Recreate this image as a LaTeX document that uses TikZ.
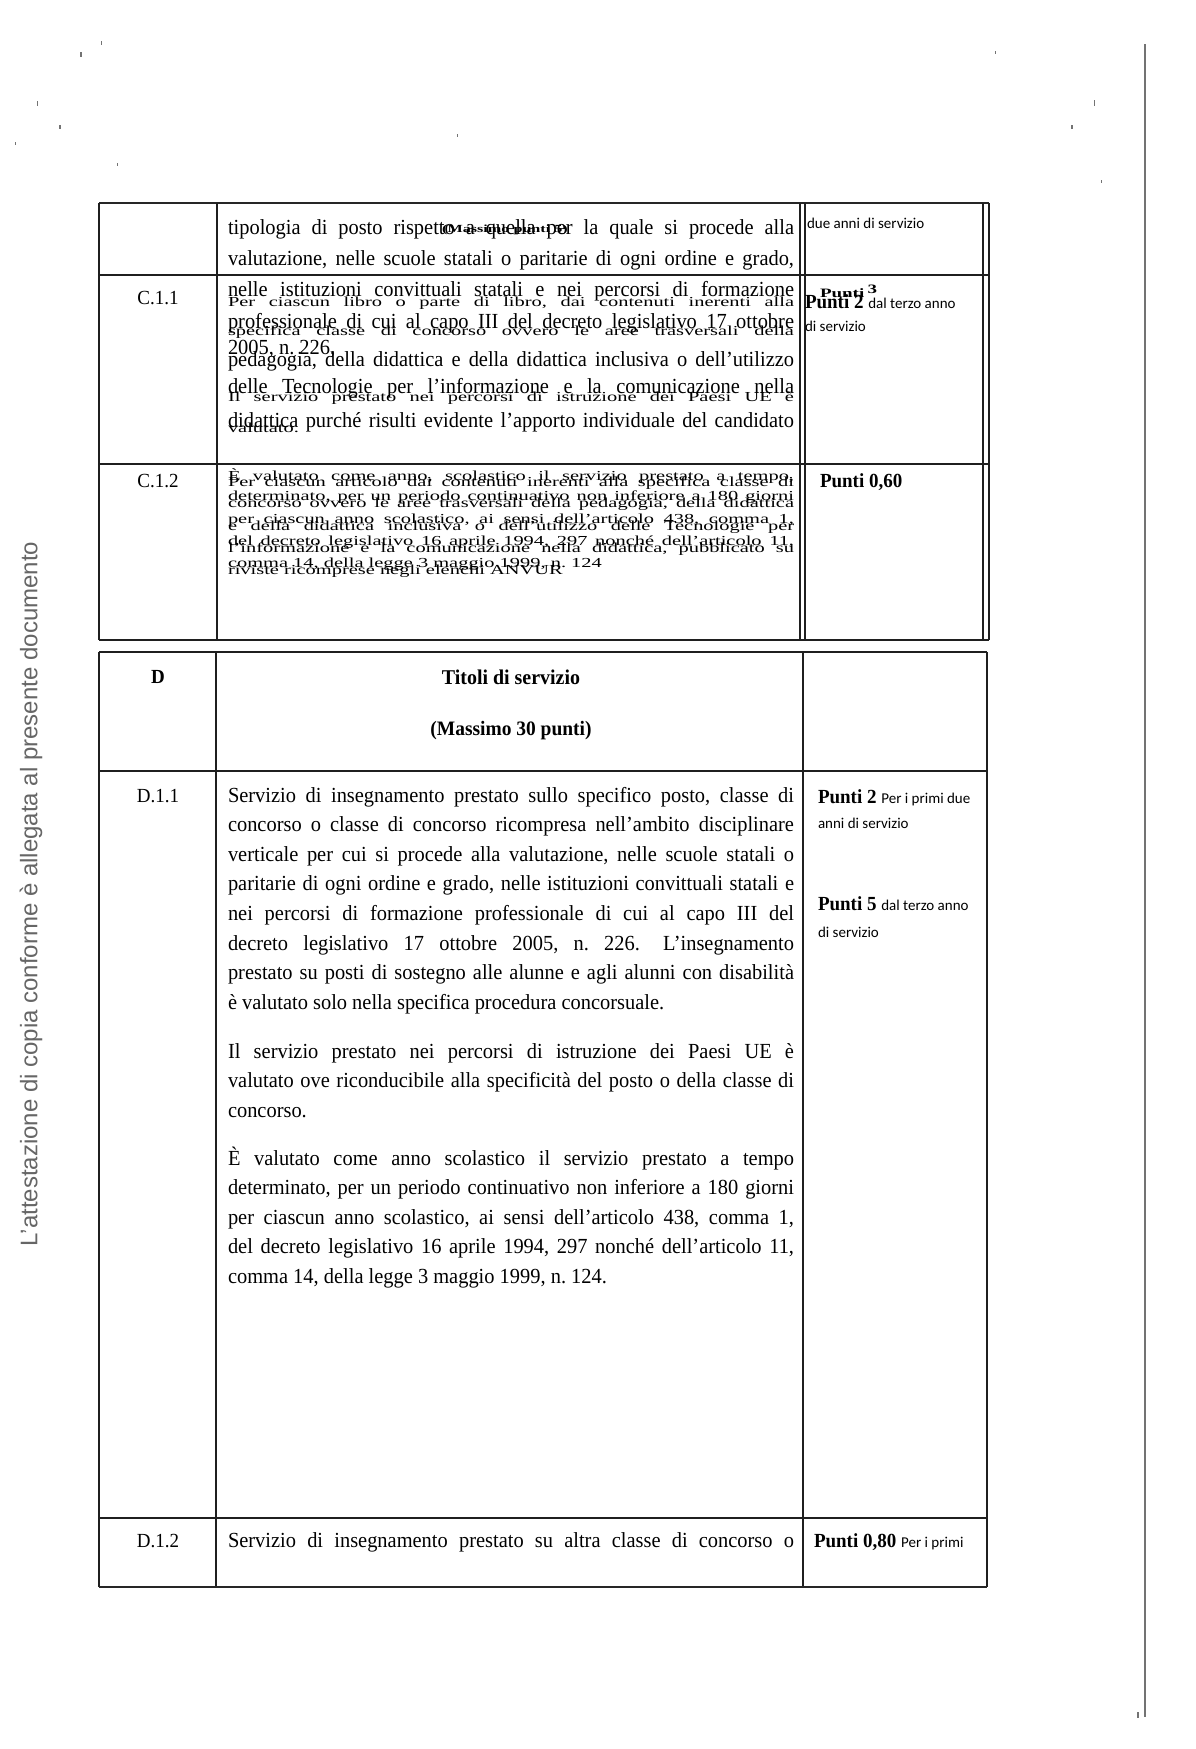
\documentclass[tikz,border=0pt]{standalone}
\usepackage{fontspec}
\setmainfont{Liberation Serif}[FakeStretch=0.95]
\newfontfamily\smsans{Carlito}
\newfontfamily\mgsans{Liberation Sans}
\newlength\LW
\setlength\LW{566pt}
\frenchspacing
\newcommand\jbox[1]{\makebox[\LW][s]{#1}}
\newcommand\sqj[1]{\scalebox{1}[0.64]{\makebox[\LW][s]{#1}}}
\newcommand\sql[1]{\scalebox{1}[0.64]{#1}}
\newcommand\smnote{\fontsize{15pt}{18pt}\smsans\mdseries}
\newcommand\plines[6]{\foreach \tx [count=\i] in {#6} {\node[tl] (#1-\i) at (#2,{#3+(\i-1)*#4}) {#5{\tx}};}}
\tikzset{
  tl/.style={anchor=base west, inner sep=0pt, outer sep=0pt, font=\fontsize{21.5pt}{25pt}\selectfont},
  lab/.style={anchor=base, inner sep=0pt, outer sep=0pt, font=\fontsize{20pt}{24pt}\selectfont},
  pts/.style={anchor=base west, inner sep=0pt, outer sep=0pt, font=\fontsize{20pt}{24pt}\selectfont\bfseries},
  note/.style={anchor=base west, inner sep=0pt, outer sep=0pt, font=\smnote},
  rule/.style={line width=1.6pt, black!88},
  speck/.style={black!55},
}
\begin{document}
\begin{tikzpicture}[x=1pt,y=-1pt]
\useasboundingbox (0,0) rectangle (1195,1749);
\fill[white] (0,0) rectangle (1195,1749);

% ---------- page marks ----------
\draw[black!55, line width=1.4pt] (1145,44) -- (1145,1717);
\fill[speck] (80,52) rectangle +(1.6,5);
\fill[speck] (101,41) rectangle +(1.2,4);
\fill[speck] (37,101) rectangle +(1.2,5);
\fill[speck] (59,125) rectangle +(1.6,4);
\fill[speck] (15,142) rectangle +(1.2,3);
\fill[speck] (117,163) rectangle +(1.2,3);
\fill[speck] (457,134) rectangle +(1.2,3);
\fill[speck] (995,51) rectangle +(1.4,3);
\fill[speck] (1094,100) rectangle +(1.4,6);
\fill[speck] (1071,125) rectangle +(1.6,4);
\fill[speck] (1101,180) rectangle +(1.2,3);
\fill[speck] (1137,1712) rectangle +(1.6,6);

% ---------- margin text ----------
\node[rotate=90, inner sep=0pt, font=\fontsize{24pt}{28pt}\mgsans, text=black!60] (marg) at (31,894)
  {L’attestazione di copia conforme è allegata al presente documento};

% ---------- table C ----------
\draw[black!85, line width=2.6pt] (99,203) -- (989,203);
\draw[rule] (99,203) -- (99,640);
\draw[rule] (217,203) -- (217,640);
\draw[rule] (800,203) -- (800,640);
\draw[rule] (805,203) -- (805,640);
\draw[rule] (983,203) -- (983,640);
\draw[rule] (989,203) -- (989,640);
\draw[rule] (99,275) -- (989,275);
\draw[rule] (99,464) -- (989,464);
\draw[rule] (99,640) -- (989,640);

% ---------- table D ----------
\draw[rule] (99,652) -- (987,652);
\draw[rule] (99,652) -- (99,1587);
\draw[rule] (216,652) -- (216,1587);
\draw[rule] (803,652) -- (803,1587);
\draw[rule] (987,652) -- (987,1587);
\draw[rule] (99,771) -- (987,771);
\draw[rule] (99,1518) -- (987,1518);
\draw[black!85, line width=2pt] (99,1587) -- (987,1587);

% ---------- top partial row ----------
\node[tl] (top-1) at (228,234) {\jbox{tipologia di posto rispetto a quella per la quale si procede alla}};
\node[anchor=base west, inner sep=0pt, font=\fontsize{17pt}{20pt}\selectfont\bfseries] (top-ov) at (442,232) {\sql{(Massimo punti 5)}};
\node[tl] (top-2) at (228,265) {\jbox{valutazione, nelle scuole statali o paritarie di ogni ordine e grado,}};
\node[note] (top-r) at (807,228) {due anni di servizio};

% ---------- C.1.1 ----------
\node[lab] (c11) at (158,304) {C.1.1};
\node[tl] (c11a-1) at (228,296) {\jbox{nelle istituzioni convittuali statali e nei percorsi di formazione}};
\node[tl] (c11a-2) at (228,328) {\jbox{professionale di cui al capo III del decreto legislativo 17 ottobre}};
\node[tl] (c11a-3) at (228,354) {2005, n. 226,};
\node[tl] (c11a-4) at (228,401) {\sqj{Il servizio prestato nei percorsi di istruzione dei Paesi UE è}};
\node[tl] (c11a-5) at (228,432) {\sql{valutato.}};
\node[tl] (c11b-1) at (228,306) {\sqj{Per ciascun libro o parte di libro, dai contenuti inerenti alla}};
\node[tl] (c11b-2) at (228,335) {\sqj{specifica classe di concorso ovvero le aree trasversali della}};
\node[tl] (c11b-3) at (228,366) {\jbox{pedagogia, della didattica e della didattica inclusiva o dell’utilizzo}};
\node[tl] (c11b-4) at (228,393) {\jbox{delle Tecnologie per l’informazione e la comunicazione nella}};
\node[tl] (c11b-5) at (228,427) {\jbox{didattica purché risulti evidente l’apporto individuale del candidato}};
\node[pts] (c11-p3) at (820,297) {\sql{Punti}\,\raisebox{4pt}{\sql{3}}};
\node[pts] (c11-p2) at (805,308) {Punti 2 {\smnote dal terzo anno}};
\node[note] (c11-ds) at (805,331) {di servizio};

% ---------- C.1.2 ----------
\node[lab] (c12) at (158,487) {C.1.2};
\node[tl] (c12a-1) at (228,480) {\sqj{È valutato come anno, scolastico il servizio prestato a tempo,}};
\node[tl] (c12a-2) at (228,500) {\sqj{determinato, per un periodo continuativo non inferiore a 180 giorni}};
\node[tl] (c12a-3) at (228,523) {\sqj{per ciascun anno scolastico, ai sensi dell’articolo 438, comma 1,}};
\node[tl] (c12a-4) at (228,545) {\sqj{del decreto legislativo 16 aprile 1994, 297 nonché dell’articolo 11,}};
\node[tl] (c12a-5) at (228,567) {\sql{comma 14, della legge 3 maggio 1999, n. 124}};
\node[tl] (c12b-1) at (228,486) {\sqj{Per ciascun articolo dai contenuti inerenti alla specifica classe di}};
\node[tl] (c12b-2) at (228,507) {\sqj{concorso ovvero le aree trasversali della pedagogia, della didattica}};
\node[tl] (c12b-3) at (228,530) {\sqj{e della didattica inclusiva o dell’utilizzo delle Tecnologie per}};
\node[tl] (c12b-4) at (228,552) {\sqj{l’informazione e la comunicazione nella didattica, pubblicato su}};
\node[tl] (c12b-5) at (228,574) {\sql{riviste ricomprese negli elenchi ANVUR}};
\node[pts] (c12-p) at (820,487) {Punti 0,60};

% ---------- D header ----------
\node[lab, font=\fontsize{20pt}{24pt}\selectfont\bfseries] (d) at (158,683) {D};
\node[lab, font=\fontsize{21pt}{25pt}\selectfont\bfseries] (dtit) at (511,684) {Titoli di servizio};
\node[lab, font=\fontsize{20.5pt}{25pt}\selectfont\bfseries] (dmax) at (511,735) {(Massimo 30 punti)};

% ---------- D.1.1 ----------
\node[lab] (d11) at (158,802) {D.1.1};
\plines{d11a}{228}{802}{29.6}{\jbox}{%
  {Servizio di insegnamento prestato sullo specifico posto, classe di},%
  {concorso o classe di concorso ricompresa nell’ambito disciplinare},%
  {verticale per cui si procede alla valutazione, nelle scuole statali o},%
  {paritarie di ogni ordine e grado, nelle istituzioni convittuali statali e},%
  {nei percorsi di formazione professionale di cui al capo III del},%
  {decreto legislativo 17 ottobre 2005, n. 226.\hspace{8pt} L’insegnamento},%
  {prestato su posti di sostegno alle alunne e agli alunni con disabilità}}
\node[tl] (d11a-8) at (228,1009.2) {è valutato solo nella specifica procedura concorsuale.};
\plines{d11b}{228}{1058}{29.6}{\jbox}{%
  {Il servizio prestato nei percorsi di istruzione dei Paesi UE è},%
  {valutato ove riconducibile alla specificità del posto o della classe di}}
\node[tl] (d11b-3) at (228,1117.2) {concorso.};
\plines{d11c}{228}{1165}{29.6}{\jbox}{%
  {È valutato come anno scolastico il servizio prestato a tempo},%
  {determinato, per un periodo continuativo non inferiore a 180 giorni},%
  {per ciascun anno scolastico, ai sensi dell’articolo 438, comma 1,},%
  {del decreto legislativo 16 aprile 1994, 297 nonché dell’articolo 11,}}
\node[tl] (d11c-5) at (228,1283.4) {comma 14, della legge 3 maggio 1999, n. 124.};
\node[pts] (d11-p2) at (818,803) {Punti 2 {\smnote Per i primi due}};
\node[note] (d11-a) at (818,828) {anni di servizio};
\node[pts] (d11-p5) at (818,910) {Punti 5 {\smnote dal terzo anno}};
\node[note] (d11-ds) at (818,937) {di servizio};

% ---------- D.1.2 ----------
\node[lab] (d12) at (158,1547) {D.1.2};
\node[tl] (d12a-1) at (228,1547) {\jbox{Servizio di insegnamento prestato su altra classe di concorso o}};
\node[pts] (d12-p) at (814,1547) {Punti 0,80 {\smnote Per i primi}};
\end{tikzpicture}
\end{document}
